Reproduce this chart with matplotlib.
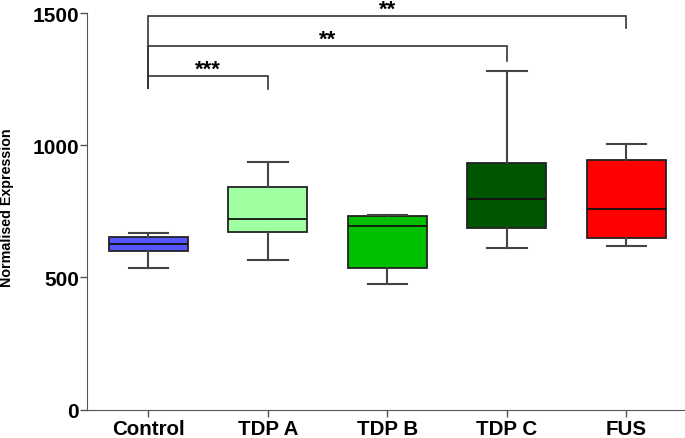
import matplotlib
matplotlib.use("Agg")
import matplotlib.pyplot as plt

plt.rcParams['font.family'] = ['Liberation Sans', 'DejaVu Sans']
plt.rcParams['font.weight'] = 'bold'

categories = ["Control", "TDP A", "TDP B", "TDP C", "FUS"]
whisker_low = [536, 567, 475, 611, 620]
q1 = [601, 671, 535, 686, 648]
median = [625, 721, 693, 796, 759]
q3 = [652, 843, 731, 932, 945]
whisker_high = [667, 935, 737, 1280, 1004]
colors = ["#5555FF", "#A0FFA0", "#00C000", "#005500", "#FF0000"]
ytick_values = [0, 500, 1000, 1500]

# significance brackets: (group a, group b, label, bracket height, right drop end)
sig_pairs = [(0, 1, "***", 1262, 1213), (0, 3, "**", 1374, 1320), (0, 4, "**", 1489, 1442)]
left_drop = 1216

fig = plt.figure(figsize=(6.85, 4.39), dpi=100)
ax = fig.add_axes([0.1274, 0.0645, 0.8726, 0.9036])

stats = []
for i, c in enumerate(categories):
    stats.append(dict(label=c, whislo=whisker_low[i], q1=q1[i], med=median[i],
                      q3=q3[i], whishi=whisker_high[i], fliers=[]))

pos = list(range(len(categories)))
bp = ax.bxp(stats, positions=pos, widths=0.66, patch_artist=True, showfliers=False,
            boxprops=dict(edgecolor="#222222", linewidth=1.3),
            medianprops=dict(color="#111111", linewidth=1.3),
            whiskerprops=dict(color="#444444", linewidth=1.5),
            capprops=dict(color="#444444", linewidth=1.5),
            capwidths=0.33)
for patch, col in zip(bp['boxes'], colors):
    patch.set_facecolor(col)

ax.set_xlim(-0.51, 4.49)
ax.set_ylim(0, 1500)
ax.set_yticks(ytick_values, labels=[str(v) for v in ytick_values],
              fontsize=15, fontweight="bold")
ax.set_xticks(pos, labels=categories, fontsize=14.8, fontweight="bold")
ax.tick_params(axis='both', direction='out', length=5, width=1, color="#555555")
ax.tick_params(axis='y', pad=1)
ax.tick_params(axis='x', pad=1.5)

ax.spines['top'].set_visible(False)
ax.spines['right'].set_visible(False)
ax.spines['left'].set_color("#555555")
ax.spines['bottom'].set_color("#555555")
ax.spines['left'].set_bounds(0, 1500)

fig.text(7.5 / 685, 1 - 208 / 439, "Normalised Expression", rotation=90,
         ha="center", va="center", fontsize=10.3, fontweight="bold")

for a, b, label, h, rdrop in sig_pairs:
    ax.plot([a, a, b, b], [left_drop, h, h, rdrop], color="#333333", lw=1.2,
            clip_on=False, solid_joinstyle='miter')
    ax.text((a + b) / 2, h + 6, label, ha="center", va="baseline",
            fontsize=16, fontweight="bold", clip_on=False)

fig.savefig("out.png", dpi=100)
